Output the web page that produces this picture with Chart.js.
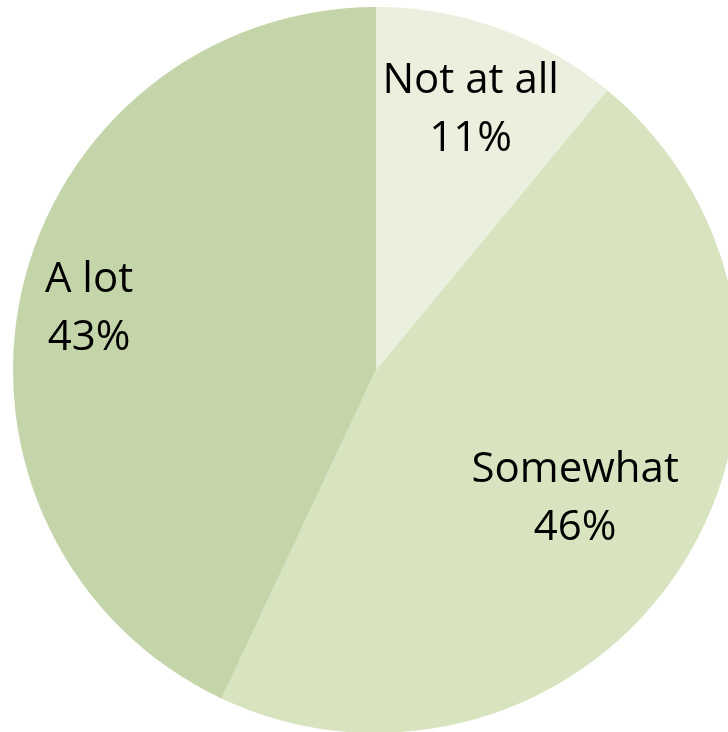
<!DOCTYPE html>
<html>
<head>
<meta charset="utf-8">
<script src="https://cdn.jsdelivr.net/npm/chart.js@4/dist/chart.umd.min.js"></script>
<style>
  html, body { margin: 0; padding: 0; background: #fff; overflow: hidden; }
  #wrap { width: 752px; height: 740px; }
</style>
</head>
<body>
<div id="wrap"><canvas id="pieChart"></canvas></div>
<script>
// Data
const categories = ['Not at all', 'Somewhat', 'A lot'];
const shares = [11, 46, 43];
const sliceColors = ['#EAF0DD', '#D8E4BF', '#C5D5AA'];
// how far out (fraction of radius) each label sits
const labelRadius = [0.77, 0.65, 0.81];

// draw "name\nNN%" labels inside slices
const sliceLabels = {
    id: 'sliceLabels',
    afterDatasetsDraw(chart) {
        const ctx = chart.ctx;
        const meta = chart.getDatasetMeta(0);
        ctx.save();
        ctx.fillStyle = '#000';
        ctx.font = '42px "Open Sans", sans-serif';
        ctx.textAlign = 'center';
        ctx.textBaseline = 'middle';
        meta.data.forEach((arc, i) => {
            const p = arc.getProps(['x', 'y', 'startAngle', 'endAngle', 'outerRadius'], true);
            const mid = (p.startAngle + p.endAngle) / 2;
            const r = p.outerRadius * labelRadius[i];
            const cx = p.x + Math.cos(mid) * r;
            const cy = p.y + Math.sin(mid) * r + 3;
            ctx.fillText(categories[i], cx, cy - 29);
            ctx.fillText(shares[i] + '%', cx, cy + 29);
        });
        ctx.restore();
    }
};

const ctx = document.getElementById('pieChart').getContext('2d');
const pieChart = new Chart(ctx, {
    type: 'pie',
    data: {
        labels: categories,
        datasets: [{
            data: shares,
            backgroundColor: sliceColors,
            borderWidth: 0
        }]
    },
    options: {
        responsive: true,
        maintainAspectRatio: false,
        animation: false,
        layout: { padding: 7 },
        plugins: {
            legend: { display: false },
            tooltip: { enabled: false }
        }
    },
    plugins: [sliceLabels]
});
</script>
</body>
</html>
